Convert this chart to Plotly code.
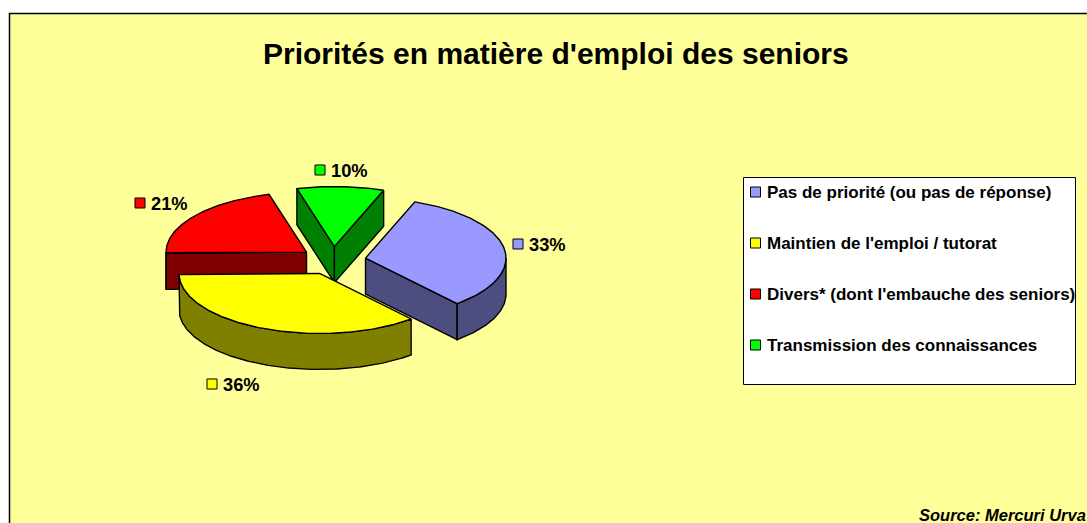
import math
import plotly.graph_objects as go

# --- data ---
categories = ["Pas de priorité (ou pas de réponse)", "Maintien de l'emploi / tutorat",
              "Divers* (dont l'embauche des seniors)", "Transmission des connaissances"]
values = [33, 36, 21, 10]
title_text = "Priorités en matière d'emploi des seniors"
source_text = "Source: Mercuri Urva"

# --- style ---
top_colors = ["#9999FF", "#FFFF00", "#FF0000", "#00FF00"]
wall_colors = ["#4D4D80", "#808000", "#800000", "#008000"]
FONT = "Liberation Sans, Arial, sans-serif"
W, H = 1087, 523
CX, CY = 333, 260.6      # pie centre on the page
RX, RY = 140.5, 60       # ellipse semi-axes
DEPTH = 36               # thickness of the pie
EXPLODE = 0.235
START = 20.5             # degrees clockwise from the top
DRAW_ORDER = [2, 3, 0, 1]
label_anchor = [(518, 244), (212, 384), (140, 203), (320, 170)]
legend_ys = [192, 243, 294, 345]


def rim(t, cx, cy):
    r = math.radians(t)
    return cx + RX * math.sin(r), cy - RY * math.cos(r)


def arc(t1, t2, cx, cy):
    n = max(2, int(abs(t2 - t1) * 1.5))
    return [rim(t1 + (t2 - t1) * i / n, cx, cy) for i in range(n + 1)]


fig = go.Figure()


def poly(pts, color, name):
    xs = [p[0] for p in pts] + [pts[0][0]]
    ys = [p[1] for p in pts] + [pts[0][1]]
    fig.add_trace(go.Scatter(x=xs, y=ys, mode="lines", fill="toself", fillcolor=color,
                             line=dict(color="#000000", width=1.4), name=name,
                             hoverinfo="name", showlegend=False))


total = sum(values)
bounds = []
a = START
for v in values:
    b = a + 360 * v / total
    bounds.append((a, b))
    a = b

for i in DRAW_ORDER:
    t1, t2 = bounds[i]
    mid = math.radians((t1 + t2) / 2)
    ax = CX + EXPLODE * RX * math.sin(mid)
    ay = CY - EXPLODE * RY * math.cos(mid)
    name = categories[i]
    # cut faces that look towards the viewer
    if 180 < t1 % 360 < 360:
        p = rim(t1, ax, ay)
        poly([(ax, ay), p, (p[0], p[1] + DEPTH), (ax, ay + DEPTH)], wall_colors[i], name)
    if 0 < t2 % 360 < 180:
        p = rim(t2, ax, ay)
        poly([(ax, ay), p, (p[0], p[1] + DEPTH), (ax, ay + DEPTH)], wall_colors[i], name)
    # outer wall: the part of the rim on the front half
    lo, hi = max(t1, 90), min(t2, 270)
    if lo < hi:
        front = arc(lo, hi, ax, ay)
        poly(front + [(x, y + DEPTH) for x, y in reversed(front)], wall_colors[i], name)
    # top face
    poly([(ax, ay)] + arc(t1, t2, ax, ay), top_colors[i], name)

# percent labels and legend keys
key_x = [p[0] for p in label_anchor] + [755.5] * 4
key_y = [p[1] for p in label_anchor] + legend_ys
key_c = top_colors + top_colors
fig.add_trace(go.Scatter(x=key_x, y=key_y, mode="markers", hoverinfo="skip", showlegend=False,
                         marker=dict(symbol="square", size=10, color=key_c,
                                     line=dict(color="#000000", width=1))))

ann = []
for (x, y), v in zip(label_anchor, values):
    ann.append(dict(x=x + 8.5, y=y, text=f"<b>{v}%</b>", xanchor="left", yanchor="middle",
                    showarrow=False, font=dict(family=FONT, size=18.3, color="#000000")))
for y, c in zip(legend_ys, categories):
    ann.append(dict(x=765, y=y, text=f"<b>{c}</b>", xanchor="left", yanchor="middle",
                    showarrow=False, font=dict(family=FONT, size=17, color="#000000")))
ann.append(dict(x=556, y=53, text=f"<b>{title_text}</b>", xanchor="center", yanchor="middle",
                showarrow=False, font=dict(family=FONT, size=30, color="#000000")))
ann.append(dict(x=917, y=515, text=f"<b><i>{source_text}</i></b>", xanchor="left", yanchor="middle",
                showarrow=False, font=dict(family=FONT, size=16.5, color="#000000")))

shapes = [
    dict(type="rect", layer="below", x0=9.5, y0=13.5, x1=W + 20, y1=H + 20,
         fillcolor="#FFFF99", line=dict(color="#000000", width=1.5)),
    dict(type="rect", layer="below", x0=743.5, y0=177.5, x1=1075.5, y1=384.5,
         fillcolor="#FFFFFF", line=dict(color="#000000", width=1)),
]

fig.update_layout(
    width=W, height=H, margin=dict(l=0, r=0, t=0, b=0), autosize=False,
    paper_bgcolor="#FFFFFF", plot_bgcolor="#FFFFFF", showlegend=False,
    xaxis=dict(range=[0, W], visible=False, fixedrange=True),
    yaxis=dict(range=[H, 0], visible=False, fixedrange=True),
    annotations=ann, shapes=shapes,
)
fig.write_html("out.html", config={"displayModeBar": False},
               post_script="document.body.style.margin='0';document.body.style.overflow='hidden';")
